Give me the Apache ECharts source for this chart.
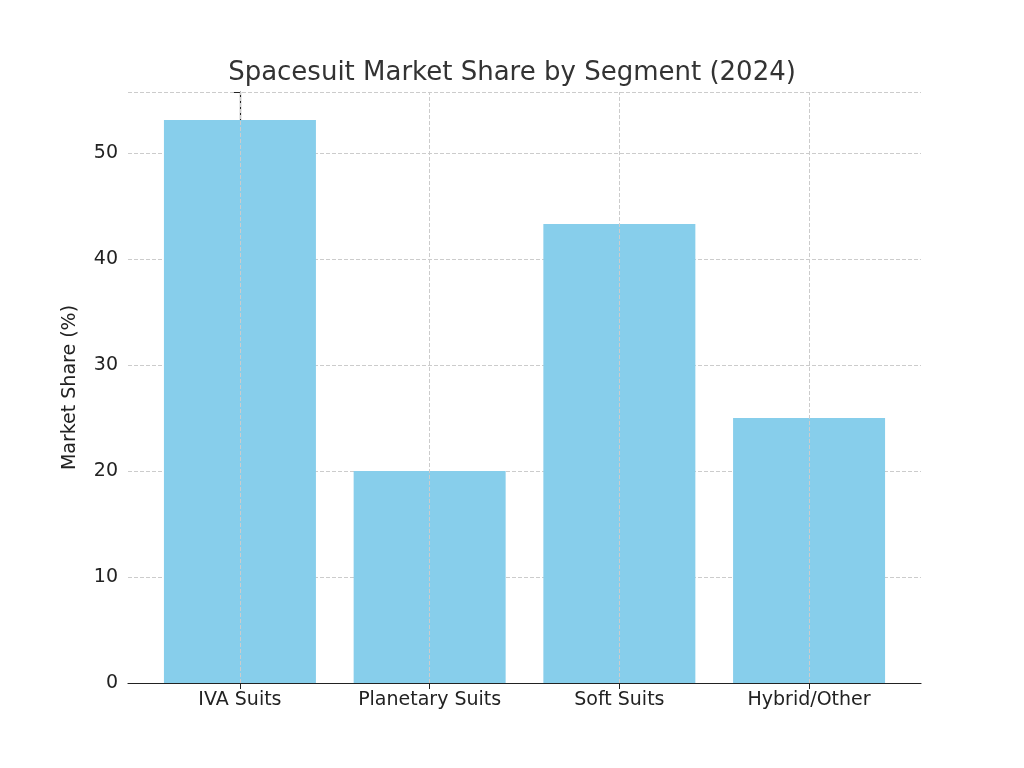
<!DOCTYPE html>
<html><head><meta charset="utf-8">
<script src="https://cdn.jsdelivr.net/npm/echarts@6/dist/echarts.min.js"></script>
<style>html,body{margin:0;background:#fff}#c{width:1024px;height:768px}</style>
</head><body><div id="c"></div>
<script>
const categories = ['IVA Suits','Planetary Suits','Soft Suits','Hybrid/Other'];
const values = [53.1, 20.0, 43.3, 25.0];
const yTicks = [0,10,20,30,40,50];
const font = 'DejaVu Sans';
const chart = echarts.init(document.getElementById('c'));
const idx = categories.map((c,i)=>i);
chart.setOption({
  animation:false,
  title:{text:'Spacesuit Market Share by Segment (2024)',left:'center',top:55,
    textStyle:{fontFamily:font,fontSize:26,fontWeight:'normal',color:'#333'}},
  grid:{left:128,right:103,top:92,bottom:85},
  xAxis:{type:'value',min:-0.59,max:3.59,
    axisLine:{show:true,lineStyle:{color:'#222',width:1.2}},
    axisTick:{show:true,customValues:idx,length:6,lineStyle:{color:'#222'}},
    axisLabel:{customValues:idx,formatter:v=>categories[Math.round(v)],fontFamily:font,fontSize:19,color:'#222',margin:8},
    splitLine:{show:false}},
  yAxis:{type:'value',min:0,max:55.75,interval:10,
    name:'Market Share (%)',nameLocation:'middle',nameGap:48,
    nameTextStyle:{fontFamily:font,fontSize:19,color:'#222'},
    axisLine:{show:true,lineStyle:{color:'#222',width:1.2}},
    axisTick:{show:true,length:6,lineStyle:{color:'#222'}},
    axisLabel:{fontFamily:font,fontSize:19,color:'#222',margin:10,formatter:v=>yTicks.includes(v)?String(v):''},
    splitLine:{show:true,lineStyle:{color:'#ccc',type:'dashed',width:1}}},
  series:[{type:'bar',data:values.map((v,i)=>[i,v]),barWidth:152,
    itemStyle:{color:'#87CEEB'},
    markLine:{silent:true,symbol:'none',label:{show:false},
      lineStyle:{color:'#ccc',type:'dashed',width:1},
      data:idx.map(i=>({xAxis:i}))},
    z:2}]
});
</script></body></html>
